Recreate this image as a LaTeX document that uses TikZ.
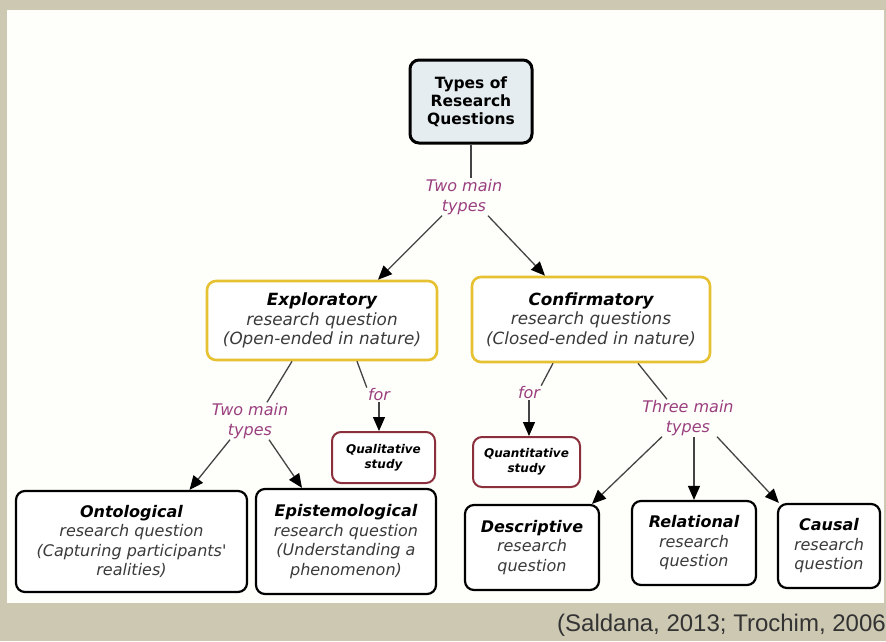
\documentclass[tikz,border=0pt]{standalone}
\usepackage{fontspec}
\setmainfont{DejaVu Sans}
\newfontfamily\citefont{Liberation Sans}
\usetikzlibrary{arrows.meta}
\definecolor{bg}{HTML}{CDC8B2}
\definecolor{panel}{HTML}{FEFEFB}
\definecolor{lblc}{HTML}{9A3F7E}
\definecolor{ybord}{HTML}{E6C232}
\definecolor{rbord}{HTML}{8C2F3C}
\definecolor{topfill}{HTML}{E5EDF0}
\definecolor{txt}{HTML}{3A3A3A}
\definecolor{conn}{HTML}{444444}
\definecolor{citec}{HTML}{333333}
\newcommand\boxhead[1]{{\bfseries\color{black}#1}}
\begin{document}
\begin{tikzpicture}[x=1pt,y=-1pt,
  box/.style={draw=black, line width=2.2pt, rounded corners=9pt, fill=white, align=center, inner sep=0pt, font=\fontsize{16}{19.5}\selectfont\itshape, text=txt},
  ybox/.style={box, draw=ybord, line width=2.6pt, font=\fontsize{16.8}{19.5}\selectfont\itshape},
  rbox/.style={box, draw=rbord, line width=2pt, font=\fontsize{12}{15}\selectfont\bfseries\itshape, text=black},
  topbox/.style={box, line width=3pt, fill=topfill, font=\fontsize{15.5}{18}\selectfont\bfseries, text=black},
  lbl/.style={align=center, inner sep=1pt, font=\fontsize{16}{19.5}\selectfont\itshape, text=lblc},
  line/.style={draw=conn, line width=1.3pt},
  arr/.style={line, -{Triangle[length=14pt,width=12pt,fill=black,color=black]}},
]
\useasboundingbox (0,0) rectangle (886,641);
\fill[bg] (0,0) rectangle (886,641);
\fill[panel] (7,10) rectangle (884,603);

\node[topbox, minimum width=122pt, minimum height=83pt] (top) at (471,101.5) {Types of\\Research\\Questions};

\node[ybox, minimum width=230pt, minimum height=79pt] (expl) at (322,320.5) {\boxhead{Exploratory}\\research question\\(Open-ended in nature)};
\node[ybox, minimum width=238pt, minimum height=85pt] (conf) at (591,319.5) {\boxhead{Confirmatory}\\research questions\\(Closed-ended in nature)};

\node[rbox, minimum width=103pt, minimum height=51pt] (qual) at (383.5,457.5) {Qualitative\\study};
\node[rbox, minimum width=107pt, minimum height=50pt] (quant) at (526.5,462) {Quantitative\\study};

\node[box, minimum width=231pt, minimum height=101pt] (onto) at (131.5,541.5) {\boxhead{Ontological}\\research question\\(Capturing participants\textquotesingle\\realities)};
\node[box, minimum width=180pt, minimum height=105pt] (epis) at (346,541.5) {\boxhead{Epistemological}\\research question\\(Understanding a\\phenomenon)};
\node[box, minimum width=134pt, minimum height=85pt] (desc) at (532,547.5) {\boxhead{Descriptive}\\research\\question};
\node[box, minimum width=124pt, minimum height=84pt] (rel) at (694,543) {\boxhead{Relational}\\research\\question};
\node[box, minimum width=102pt, minimum height=84pt] (causal) at (829,546) {\boxhead{Causal}\\research\\question};

\node[lbl] (lab1) at (464,197) {Two main\\types};
\node[lbl] (lab2) at (250,421) {Two main\\types};
\node[lbl] (lab3) at (379,395) {for};
\node[lbl] (lab4) at (529,393) {for};
\node[lbl] (lab5) at (688,418) {Three main\\types};

\draw[line] (top.south) -- (top.south |- lab1.north);
\draw[arr] ([xshift=-22pt]lab1.south) -- ([xshift=56pt]expl.north);
\draw[arr] ([xshift=24pt]lab1.south) -- ([xshift=-46pt]conf.north);

\draw[line] ([xshift=-30pt]expl.south) -- ([xshift=17pt]lab2.north);
\draw[arr] ([xshift=-20pt]lab2.south) -- ([xshift=58pt]onto.north);
\draw[arr] ([xshift=19pt]lab2.south) -- ([xshift=-44pt]epis.north);

\draw[line] ([xshift=35pt]expl.south) -- (lab3.north west);
\draw[arr] (lab3.south) -- (lab3.south |- qual.north);

\draw[line] ([xshift=-38pt]conf.south) -- (lab4.north east);
\draw[arr] (lab4.south) -- (lab4.south |- quant.north);

\draw[line] ([xshift=47pt]conf.south) -- ([xshift=-21pt]lab5.north);
\draw[arr] ([xshift=-26pt]lab5.south) -- ([xshift=60pt]desc.north);
\draw[arr] (rel.north |- lab5.south) -- (rel.north);
\draw[arr] ([xshift=29pt]lab5.south) -- ([xshift=2pt]causal.north west);

\node[anchor=base east, inner sep=0pt, font=\citefont\fontsize{24}{24}\selectfont, text=citec] (cite) at (886,631) {(Saldana, 2013; Trochim, 2006};
\end{tikzpicture}
\end{document}
